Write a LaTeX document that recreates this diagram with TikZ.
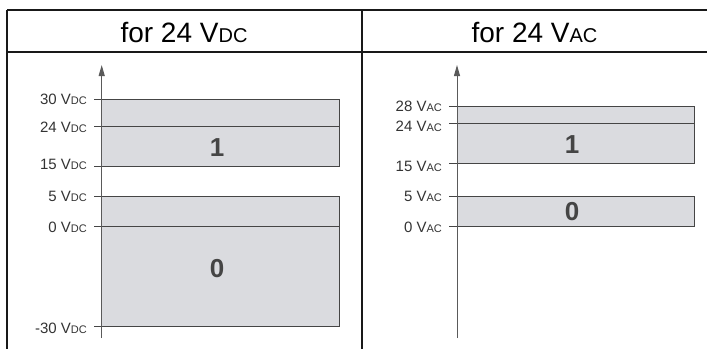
\documentclass[tikz,border=0pt]{standalone}
\usepackage{fontspec}
\setmainfont{Liberation Sans}
\usetikzlibrary{arrows.meta}
\definecolor{boxfill}{HTML}{DADBDF}
\definecolor{boxline}{HTML}{454545}
\definecolor{axisc}{HTML}{5A5A5A}
\definecolor{lblc}{HTML}{333333}
\newcommand\smallsub[1]{{\fontsize{11}{12}\selectfont #1}}
\newcommand\headsub[1]{{\fontsize{20}{22}\selectfont #1}}
\tikzset{
  frame/.style={draw=black!90, line width=1.3pt},
  band/.style={fill=boxfill, draw=boxline, line width=1pt},
  sep/.style={draw=boxline, line width=1pt},
  axisline/.style={draw=axisc, line width=1pt, -{Triangle[length=11pt,width=6pt]}},
  lbl/.style={anchor=base east, inner sep=0pt, text=lblc, font=\fontsize{15}{16}\selectfont},
  head/.style={anchor=base, inner sep=0pt, font=\fontsize{28}{30}\selectfont},
  state/.style={anchor=base, inner sep=0pt, text=boxline, font=\fontsize{26}{27}\selectfont\bfseries}
}
\begin{document}
\begin{tikzpicture}[x=1pt,y=-1pt]
\useasboundingbox (0,0) rectangle (707,349);
% table frame
\coordinate (tl) at (7,10); \coordinate (tr) at (707,10);
\coordinate (hl) at (7,52); \coordinate (hr) at (707,52);
\coordinate (bl) at (7,349); \coordinate (mt) at (362,10); \coordinate (mb) at (362,349);
\draw[frame] (tl) -- (tr);
\draw[frame] (hl) -- (hr);
\draw[frame] (tl) -- (bl);
\draw[frame] (mt) -- (mb);
\node[head] (h1) at (184,42) {for 24 V\headsub{DC}};
\node[head] (h2) at (534.5,42) {for 24 V\headsub{AC}};
% ---------- DC panel
\fill[boxfill] (101.7,99) rectangle (339,166);
\fill[boxfill] (101.7,196) rectangle (339,326);
\draw[sep] (94,99) -- (339,99) -- (339,166) -- (94,166);
\draw[sep] (94,196) -- (339,196) -- (339,326) -- (94,326);
\draw[sep] (94,126) -- (339,126);
\draw[sep] (94,226) -- (339,226);
\coordinate (a1b) at (101.7,338); \coordinate (a1t) at (101.7,65);
\draw[axisline] (a1b) -- (a1t);
\foreach \v/\y/\d in {30/99/0,24/126/1,15/166/-2,5/196/0,0/226/1,-30/326/2}
  \node[lbl] (dc\v) at (87,\y+5.5+\d) {\v{} V\smallsub{DC}};
\node[state] (s1) at (217,156) {1};
\node[state] (s0) at (217,277) {0};
% ---------- AC panel
\fill[boxfill] (457,106) rectangle (694,163);
\fill[boxfill] (457,196) rectangle (694,226);
\draw[sep] (449,106) -- (694,106) -- (694,163) -- (449,163);
\draw[sep] (449,196) -- (694,196) -- (694,226) -- (449,226);
\draw[sep] (449,123) -- (694,123);
\coordinate (a2b) at (457,338); \coordinate (a2t) at (457,65);
\draw[axisline] (a2b) -- (a2t);
\foreach \v/\y/\d in {28/106/0,24/123/3,15/163/3,5/196/0,0/226/1}
  \node[lbl] (ac\v) at (442,\y+5.5+\d) {\v{} V\smallsub{AC}};
\node[state] (t1) at (572,153) {1};
\node[state] (t0) at (572,220) {0};
\end{tikzpicture}
\end{document}
